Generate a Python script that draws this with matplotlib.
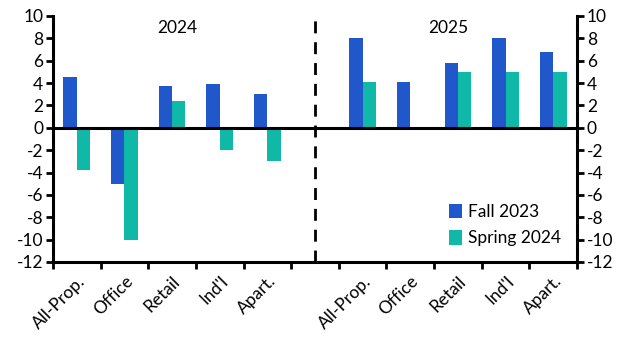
import numpy as np
import matplotlib.pyplot as plt

plt.rcParams['font.family'] = ['Lato', 'DejaVu Sans']
plt.rcParams['axes.unicode_minus'] = False

# data
categories = ['All-Prop.', 'Office', 'Retail', "Ind'l", 'Apart.']
years = ['2024', '2025']
fall_2023_2024 = [4.5, -5.0, 3.7, 3.9, 3.0]
spring_2024_2024 = [-3.8, -10.0, 2.4, -2.0, -3.0]
fall_2023_2025 = [8.0, 4.1, 5.8, 8.0, 6.8]
spring_2024_2025 = [4.1, np.nan, 5.0, 5.0, 5.0]

blue = '#2058CC'
teal = '#10B8A8'

fall = fall_2023_2024 + [np.nan] + fall_2023_2025
spring = spring_2024_2024 + [np.nan] + spring_2024_2025
labels = categories + [''] + categories
x = np.arange(len(labels))
w = 0.28

fig = plt.figure(figsize=(6.3, 3.55), dpi=100)
ax = fig.add_axes([0.084, 0.262, 0.832, 0.693])

ax.bar(x - w / 2, fall, w, color=blue, label='Fall 2023', zorder=2)
ax.bar(x + w / 2, spring, w, color=teal, label='Spring 2024', zorder=2)

ax.axhline(0, color='black', lw=2.2, zorder=3)
ax.axvline(5, color='black', lw=2.0, ls=(0, (4.3, 3.2)), zorder=3)

ax.set_xlim(-0.5, len(labels) - 0.5)
ax.set_ylim(-12, 10)
ax.set_yticks(range(-12, 11, 2))

# ticks between categories, labels at centres
ax.set_xticks(np.arange(-0.5, len(labels), 1))
ax.set_xticklabels([])
ax.set_xticks(x, minor=True)
ax.set_xticklabels(labels, minor=True, rotation=45, ha='right',
                   rotation_mode='anchor', fontsize=12.5)
ax.tick_params(axis='x', which='minor', length=0, pad=8)
ax.tick_params(axis='x', which='major', length=5, width=2, direction='out')
ax.tick_params(axis='y', length=5, width=2, direction='out', labelsize=12.5,
               left=True, right=True, labelleft=True, labelright=True, pad=2)

ax.spines['top'].set_visible(False)
for s in ['left', 'right', 'bottom']:
    ax.spines[s].set_linewidth(2.2)

ax.text(2.1, 9.6, years[0], ha='center', va='top', fontsize=12.5)
ax.text(7.8, 9.6, years[1], ha='center', va='top', fontsize=12.5)

ax.legend(loc='lower right', bbox_to_anchor=(1.0, -0.0), frameon=False,
          fontsize=12.5, handlelength=0.7, handleheight=0.9,
          handletextpad=0.4, labelspacing=0.6)

fig.savefig('out.png', dpi=100)
